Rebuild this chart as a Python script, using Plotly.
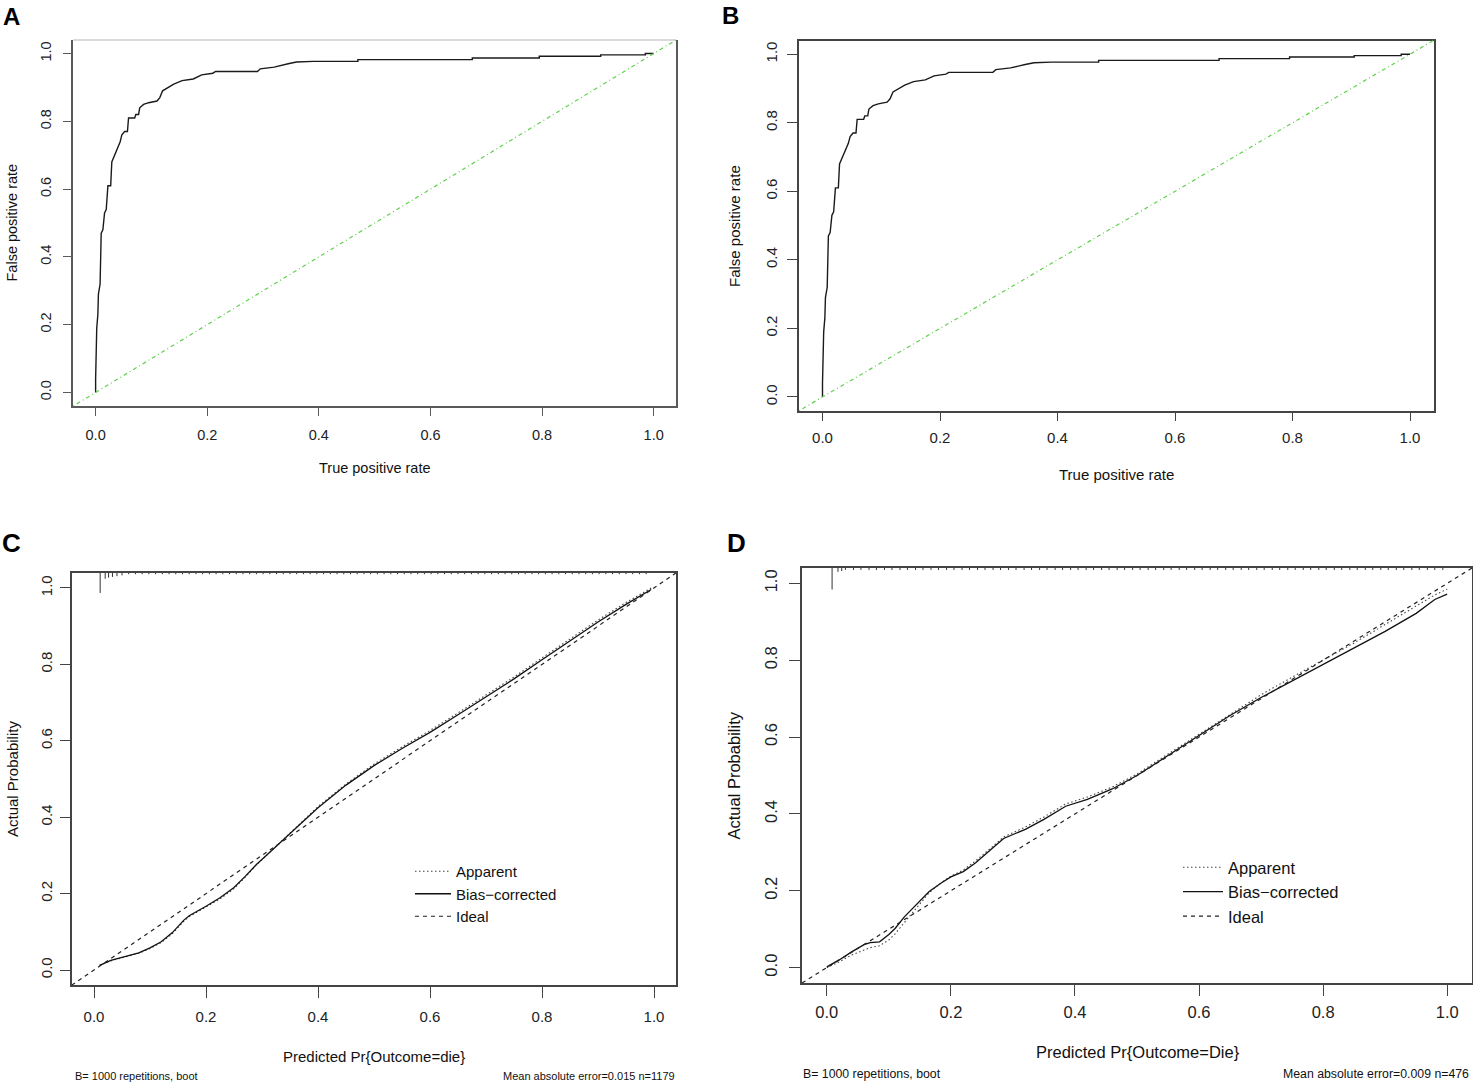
import plotly.graph_objects as go

# ---------------- data ----------------
# ROC curve (panels A and B)
roc_fpr = [0.000, 0.000, 0.002, 0.004, 0.005, 0.008, 0.010, 0.013, 0.016, 0.019,
           0.022, 0.027, 0.029, 0.034, 0.038, 0.044, 0.047, 0.052, 0.057, 0.059,
           0.070, 0.072, 0.077, 0.079, 0.086, 0.095, 0.110, 0.115, 0.120, 0.130,
           0.140, 0.155, 0.175, 0.190, 0.210, 0.215, 0.290, 0.295, 0.320, 0.345,
           0.360, 0.390, 0.470, 0.470, 0.675, 0.675, 0.795, 0.795, 0.905, 0.905,
           0.985, 0.985, 1.000]
roc_tpr = [0.000, 0.040, 0.190, 0.230, 0.290, 0.320, 0.470, 0.480, 0.530, 0.540,
           0.610, 0.610, 0.680, 0.700, 0.720, 0.740, 0.760, 0.770, 0.770, 0.810,
           0.810, 0.820, 0.820, 0.840, 0.850, 0.855, 0.860, 0.870, 0.890, 0.900,
           0.910, 0.920, 0.925, 0.937, 0.942, 0.947, 0.947, 0.955, 0.960, 0.970,
           0.975, 0.977, 0.977, 0.982, 0.982, 0.987, 0.987, 0.992, 0.992, 0.996,
           0.996, 1.000, 1.000]

# Calibration panel C
cal_c_x = [0.010, 0.030, 0.050, 0.080, 0.100, 0.120, 0.140, 0.160, 0.170, 0.180,
           0.200, 0.225, 0.250, 0.270, 0.290, 0.310, 0.330, 0.350, 0.370, 0.400,
           0.450, 0.500, 0.550, 0.600, 0.650, 0.700, 0.750, 0.800, 0.850, 0.900,
           0.950, 0.995]
cal_c_bias = [0.012, 0.025, 0.033, 0.045, 0.058, 0.074, 0.098, 0.130, 0.142, 0.151,
              0.167, 0.189, 0.216, 0.245, 0.276, 0.303, 0.330, 0.357, 0.384, 0.425,
              0.484, 0.535, 0.580, 0.622, 0.668, 0.714, 0.762, 0.812, 0.861, 0.911,
              0.957, 0.996]
cal_c_app = [0.012, 0.024, 0.032, 0.044, 0.056, 0.072, 0.095, 0.127, 0.140, 0.149,
             0.165, 0.186, 0.213, 0.243, 0.275, 0.303, 0.331, 0.359, 0.387, 0.428,
             0.487, 0.539, 0.584, 0.627, 0.673, 0.719, 0.767, 0.817, 0.866, 0.916,
             0.962, 1.000]

# Calibration panel D
cal_d_x = [0.000, 0.020, 0.040, 0.060, 0.070, 0.085, 0.100, 0.110, 0.125, 0.145,
           0.165, 0.185, 0.200, 0.220, 0.240, 0.265, 0.285, 0.320, 0.350, 0.385,
           0.420, 0.460, 0.500, 0.550, 0.600, 0.650, 0.700, 0.750, 0.800, 0.850,
           0.900, 0.950, 0.980, 1.000]
cal_d_bias = [0.002, 0.020, 0.041, 0.060, 0.065, 0.067, 0.086, 0.102, 0.132, 0.164,
              0.198, 0.221, 0.236, 0.250, 0.273, 0.308, 0.336, 0.360, 0.386, 0.420,
              0.438, 0.465, 0.500, 0.552, 0.605, 0.656, 0.703, 0.746, 0.788, 0.830,
              0.875, 0.922, 0.958, 0.972]
cal_d_app = [0.000, 0.015, 0.033, 0.047, 0.052, 0.057, 0.072, 0.088, 0.118, 0.158,
             0.195, 0.222, 0.238, 0.254, 0.278, 0.312, 0.340, 0.366, 0.392, 0.426,
             0.444, 0.470, 0.504, 0.556, 0.608, 0.660, 0.710, 0.756, 0.800, 0.845,
             0.893, 0.940, 0.970, 0.985]

# Distribution of predicted values (spikes hanging from the top border)
rug_c_x = [0.011, 0.020, 0.026, 0.033, 0.041, 0.050]
rug_c_len = [0.053, 0.016, 0.013, 0.011, 0.009, 0.007]
rug_c_small = [0.062, 0.074, 0.086, 0.098, 0.110, 0.122, 0.134, 0.146, 0.158, 0.170,
               0.182, 0.194, 0.206, 0.218, 0.230, 0.242, 0.254, 0.266, 0.278, 0.290,
               0.302, 0.314, 0.326, 0.338, 0.350, 0.362, 0.374, 0.386, 0.398, 0.410,
               0.422, 0.434, 0.446, 0.458, 0.470, 0.482, 0.494, 0.506, 0.518, 0.530,
               0.542, 0.554, 0.566, 0.578, 0.590, 0.602, 0.614, 0.626, 0.638, 0.650,
               0.662, 0.674, 0.686, 0.698, 0.710, 0.722, 0.734, 0.746, 0.758, 0.770,
               0.782, 0.794, 0.806, 0.818, 0.830, 0.842, 0.854, 0.866, 0.878, 0.890,
               0.902, 0.914, 0.926, 0.938, 0.950, 0.962, 0.974, 0.986]
rug_c_small_len = 0.004

rug_d_x = [0.0085, 0.018, 0.024]
rug_d_len = [0.056, 0.010, 0.008]
rug_d_small = [0.030, 0.043, 0.055, 0.068, 0.080, 0.093, 0.105, 0.118, 0.130, 0.143,
               0.155, 0.168, 0.180, 0.193, 0.205, 0.218, 0.230, 0.243, 0.255, 0.268,
               0.280, 0.293, 0.305, 0.318, 0.330, 0.343, 0.355, 0.368, 0.380, 0.393,
               0.405, 0.418, 0.430, 0.443, 0.455, 0.468, 0.480, 0.493, 0.505, 0.518,
               0.530, 0.543, 0.555, 0.568, 0.580, 0.593, 0.605, 0.618, 0.630, 0.643,
               0.655, 0.668, 0.680, 0.693, 0.705, 0.718, 0.730, 0.743, 0.755, 0.768,
               0.780, 0.793, 0.805, 0.818, 0.830, 0.843, 0.855, 0.868, 0.880, 0.893,
               0.905, 0.918, 0.930, 0.943, 0.955, 0.968, 0.980, 0.993]
rug_d_small_len = 0.005

tick_vals = [0.0, 0.2, 0.4, 0.6, 0.8, 1.0]
AX_RANGE = [-0.04, 1.04]

# ---------------- layout helpers ----------------
W, H = 1473, 1083
ARIAL = "Liberation Sans, Arial, sans-serif"


def xdom(l, r):
    return [l / W, r / W]


def ydom(t, b):
    return [1 - b / H, 1 - t / H]


def px(x):
    return x / W


def py(y):
    return 1 - y / H


def make_axis(dom, anchor, size, tlen, standoff, lcolor, mirror=True, vertical=False):
    d = dict(domain=dom, anchor=anchor, range=AX_RANGE, tickmode="array",
             tickvals=tick_vals, tickformat=".1f", ticks="outside", ticklen=tlen,
             tickwidth=1.2, tickcolor=lcolor, showline=True, linecolor=lcolor,
             linewidth=1.5, mirror=mirror, showgrid=False, zeroline=False,
             tickfont=dict(family=ARIAL, size=size, color="#222222"),
             ticklabelstandoff=int(round(standoff)), fixedrange=True)
    if vertical:
        d["tickangle"] = -90
    return d


def rug_xy(xs, lens, top):
    X, Y = [], []
    for x, l in zip(xs, lens):
        X += [x, x, None]
        Y += [top, top - l, None]
    return X, Y


fig = go.Figure()

# ---- Panel A (x/y) and B (x2/y2): ROC ----
for xa, ya in (("x", "y"), ("x2", "y2")):
    fig.add_trace(go.Scatter(x=roc_fpr, y=roc_tpr, mode="lines", xaxis=xa, yaxis=ya,
                             line=dict(color="#1a1a1a", width=1.4), showlegend=False,
                             hoverinfo="skip"))

# ---- Panel C (x3/y3) ----
top = AX_RANGE[1]
rx, ry = rug_xy(rug_c_x + rug_c_small,
                rug_c_len + [rug_c_small_len] * len(rug_c_small), top)
fig.add_trace(go.Scatter(x=rx, y=ry, mode="lines", xaxis="x3", yaxis="y3",
                         line=dict(color="#333333", width=1), showlegend=False,
                         hoverinfo="skip"))
fig.add_trace(go.Scatter(x=cal_c_x, y=cal_c_app, mode="lines", xaxis="x3", yaxis="y3",
                         name="Apparent", legend="legend",
                         line=dict(color="#444444", width=1.1, dash="1.5px,2.5px")))
fig.add_trace(go.Scatter(x=cal_c_x, y=cal_c_bias, mode="lines", xaxis="x3", yaxis="y3",
                         name="Bias\u2212corrected", legend="legend",
                         line=dict(color="#111111", width=1.3)))
fig.add_trace(go.Scatter(x=AX_RANGE, y=AX_RANGE, mode="lines", xaxis="x3", yaxis="y3",
                         name="Ideal", legend="legend",
                         line=dict(color="#222222", width=1.2, dash="4px,4px")))

# ---- Panel D (x4/y4) ----
rx, ry = rug_xy(rug_d_x + rug_d_small,
                rug_d_len + [rug_d_small_len] * len(rug_d_small), top)
fig.add_trace(go.Scatter(x=rx, y=ry, mode="lines", xaxis="x4", yaxis="y4",
                         line=dict(color="#333333", width=1), showlegend=False,
                         hoverinfo="skip"))
fig.add_trace(go.Scatter(x=cal_d_x, y=cal_d_app, mode="lines", xaxis="x4", yaxis="y4",
                         name="Apparent", legend="legend2",
                         line=dict(color="#444444", width=1.1, dash="1.5px,2.5px")))
fig.add_trace(go.Scatter(x=cal_d_x, y=cal_d_bias, mode="lines", xaxis="x4", yaxis="y4",
                         name="Bias\u2212corrected", legend="legend2",
                         line=dict(color="#111111", width=1.3)))
fig.add_trace(go.Scatter(x=AX_RANGE, y=AX_RANGE, mode="lines", xaxis="x4", yaxis="y4",
                         name="Ideal", legend="legend2",
                         line=dict(color="#222222", width=1.2, dash="4px,4px")))

# panel boxes (pixel geometry of the reference)
A_X, A_Y = xdom(73.3, 676), ydom(40, 406)
B_X, B_Y = xdom(799, 1433.5), ydom(40.5, 410.7)
C_X, C_Y = xdom(71.6, 676.4), ydom(572.7, 985.3)
D_X, D_Y = xdom(802, 1472), ydom(568, 983)

fig.update_layout(
    width=W, height=H, autosize=False,
    margin=dict(l=0, r=0, t=0, b=0),
    paper_bgcolor="white", plot_bgcolor="white",
    xaxis=make_axis(A_X, "y", 14.5, 8, 7, "#5a5a5a", mirror=False),
    yaxis=make_axis(A_Y, "x", 14.5, 9, 6, "#5a5a5a", vertical=True),
    xaxis2=make_axis(B_X, "y2", 15, 9, 4, "#444444"),
    yaxis2=make_axis(B_Y, "x2", 15, 10, 4, "#444444", vertical=True),
    xaxis3=make_axis(C_X, "y3", 15, 11, 6, "#444444"),
    yaxis3=make_axis(C_Y, "x3", 15, 9.5, 2, "#444444", vertical=True),
    xaxis4=make_axis(D_X, "y4", 16.5, 11.5, 2, "#444444"),
    yaxis4=make_axis(D_Y, "x4", 16.5, 11, 6, "#444444", vertical=True),
    legend=dict(x=px(410), y=py(855), xanchor="left", yanchor="top", itemwidth=36,
                font=dict(family=ARIAL, size=15, color="#111111"),
                bgcolor="rgba(0,0,0,0)", borderwidth=0, tracegroupgap=0),
    legend2=dict(x=px(1178), y=py(850), xanchor="left", yanchor="top", itemwidth=40,
                 font=dict(family=ARIAL, size=16.5, color="#111111"),
                 bgcolor="rgba(0,0,0,0)", borderwidth=0, tracegroupgap=0),
    showlegend=True,
)

# reference diagonals in panels A and B, light top border of A
fig.add_shape(type="line", xref="x domain", yref="y domain", x0=0, y0=0, x1=1, y1=1,
              line=dict(color="#61D04F", width=1.2, dash="1px,3px,4px,3px"))
fig.add_shape(type="line", xref="x2 domain", yref="y2 domain", x0=0, y0=0, x1=1, y1=1,
              line=dict(color="#61D04F", width=1.2, dash="1px,3px,4px,3px"))
fig.add_shape(type="line", xref="x domain", yref="y domain", x0=0, y0=1, x1=1, y1=1,
              line=dict(color="#b5b5b5", width=1.2))


# text: axis titles, panel letters, footers
def ann(text, x, y, size, angle=0, xanchor="center", bold=False, color="#111111"):
    fig.add_annotation(text=("<b>%s</b>" % text) if bold else text, x=px(x), y=py(y),
                       xref="paper", yref="paper", showarrow=False, textangle=angle,
                       xanchor=xanchor, yanchor="middle",
                       font=dict(family=ARIAL, size=size, color=color))


ann("True positive rate", 374.6, 467.5, 14.5)
ann("False positive rate", 11.5, 223, 14.5, angle=-90)
ann("True positive rate", 1116.2, 474, 15)
ann("False positive rate", 734, 226, 15, angle=-90)
ann("Predicted Pr{Outcome=die}", 374, 1056, 15)
ann("Actual Probability", 12, 779, 15, angle=-90)
ann("Predicted Pr{Outcome=Die}", 1137.5, 1052, 16.5)
ann("Actual Probability", 733, 775.5, 16.5, angle=-90)

ann("B= 1000 repetitions, boot", 72.5, 1076, 11, xanchor="left")
ann("Mean absolute error=0.015 n=1179", 677, 1076, 11, xanchor="right")
ann("B= 1000 repetitions, boot", 801, 1073.5, 12.3, xanchor="left")
ann("Mean absolute error=0.009 n=476", 1471, 1073.5, 12.3, xanchor="right")

ann("A", 11, 17, 24, bold=True, color="#000000")
ann("B", 730, 16, 24, bold=True, color="#000000")
ann("C", 11, 543, 26, bold=True, color="#000000")
ann("D", 736, 543, 26, bold=True, color="#000000")

fig.write_html("out.html", config={"displayModeBar": False},
               post_script="document.body.style.margin='0px';"
                           "document.body.style.padding='0px';")
